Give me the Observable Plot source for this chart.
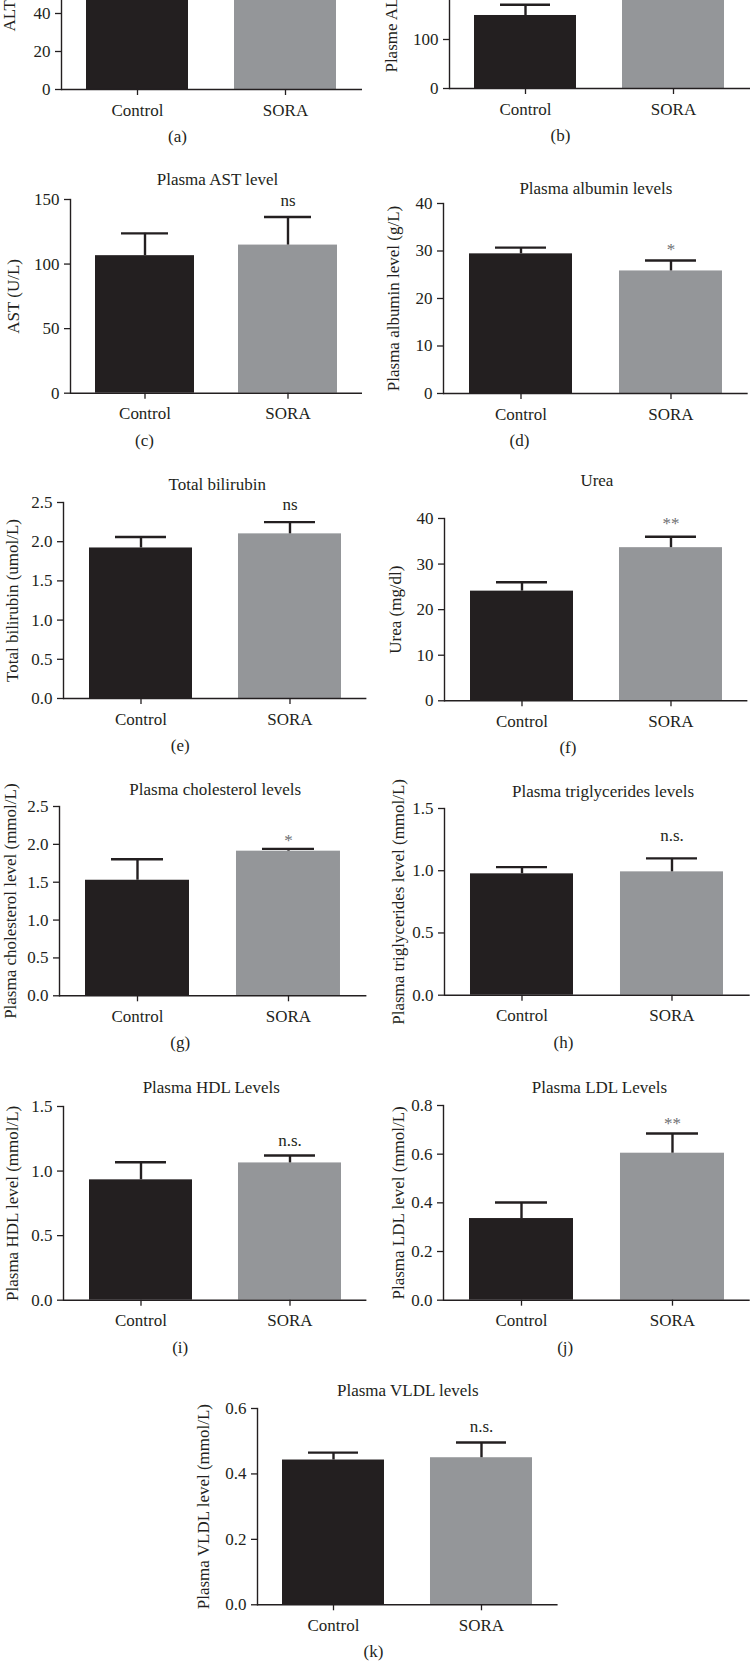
<!DOCTYPE html>
<html>
<head>
<meta charset="utf-8">
<script src="https://cdn.jsdelivr.net/npm/d3@7"></script>
<script src="https://cdn.jsdelivr.net/npm/@observablehq/plot@0.6"></script>
<style>
  html, body { margin: 0; padding: 0; background: #fff; }
  #page { position: relative; width: 751px; height: 1664px; overflow: hidden; background: #fff; }
  #page svg { position: absolute; }
</style>
</head>
<body>
<div id="page"></div>
<script>
// ---------- data ----------
const groups = ["Control", "SORA"];
const letters = ["a", "b", "c", "d", "e", "f", "g", "h", "i", "j", "k"];
// titles of (a) and (b) lie above the cropped top edge of the figure
const titles = [
  "", "", "Plasma AST level", "Plasma albumin levels",
  "Total bilirubin", "Urea", "Plasma cholesterol levels", "Plasma triglycerides levels",
  "Plasma HDL Levels", "Plasma LDL Levels", "Plasma VLDL levels"
];
const yLabels = [
  "ALT (U/L)", "Plasme ALP level (U/L)", "AST (U/L)", "Plasma albumin level (g/L)",
  "Total bilirubin (umol/L)", "Urea (mg/dl)", "Plasma cholesterol level (mmol/L)",
  "Plasma triglycerides level (mmol/L)", "Plasma HDL level (mmol/L)",
  "Plasma LDL level (mmol/L)", "Plasma VLDL level (mmol/L)"
];
const controlMean = [58, 149, 106.5, 29.4, 1.92, 24.06, 1.526, 0.975, 0.932, 0.3355, 0.4425];
const controlErr  = [6, 22, 17.3, 1.3, 0.14, 1.94, 0.277, 0.054, 0.136, 0.066, 0.0225];
const soraMean    = [72, 240, 114.7, 25.8, 2.10, 33.6, 1.91, 0.991, 1.063, 0.604, 0.4495];
const soraErr     = [8, 30, 21.7, 2.2, 0.15, 2.4, 0.03, 0.108, 0.057, 0.081, 0.0465];
const markers     = ["", "", "ns", "*", "ns", "**", "*", "n.s.", "n.s.", "**", "n.s."];
const yMax        = [100, 400, 150, 40, 2.5, 40, 2.5, 1.5, 1.5, 0.8, 0.6];
const yStep       = [20, 100, 50, 10, 0.5, 10, 0.5, 0.5, 0.5, 0.2, 0.2];

// ---------- layout (page pixels) ----------
const layout = [
  {axisX: 61,    right: 362,   top: -101,   base: 89,     titleDy: -25,   titleDx: 0,    yLabDx: -52,   markDy: -12,   letterX: 177},
  {axisX: 449,   right: 750,   top: -108,   base: 88,     titleDy: -25,   titleDx: 0,    yLabDx: -58,   markDy: -12,   letterX: 560},
  {axisX: 70,    right: 362,   top: 199,    base: 392.7,  titleDy: -27,   titleDx: 1,    yLabDx: -56.7, markDy: -16.5, letterX: 144},
  {axisX: 443,   right: 747.7, top: 203.3,  base: 393.3,  titleDy: -21.3, titleDx: 0,    yLabDx: -49.7, markDy: -11,   letterX: 519},
  {axisX: 63.3,  right: 366.7, top: 502.3,  base: 698.3,  titleDy: -24.3, titleDx: 2,    yLabDx: -51,   markDy: -18,   letterX: 180},
  {axisX: 444.3, right: 747.7, top: 517.7,  base: 700,    titleDy: -44.4, titleDx: 0.7,  yLabDx: -48.6, markDy: -13,   letterX: 567.7},
  {axisX: 59.3,  right: 366.7, top: 805.7,  base: 995,    titleDy: -24,   titleDx: 2,    yLabDx: -48.6, markDy: -8.4,  letterX: 180},
  {axisX: 444.3, right: 750,   top: 808.3,  base: 995,    titleDy: -23.3, titleDx: 5.7,  yLabDx: -46,   markDy: -23,   letterX: 563.3},
  {axisX: 63.3,  right: 366.7, top: 1106,   base: 1299.7, titleDy: -26,   titleDx: -4,   yLabDx: -51,   markDy: -15,   letterX: 180},
  {axisX: 443.3, right: 750,   top: 1105,   base: 1299.7, titleDy: -25,   titleDx: 2.6,  yLabDx: -45,   markDy: -10.4, letterX: 565},
  {axisX: 256.7, right: 557.3, top: 1407.7, base: 1604,   titleDy: -24.4, titleDx: 0,    yLabDx: -54.4, markDy: -15.5, letterX: 372.7}
];

const ink = "#231f20";
const barColors = ["#231f20", "#949699"];
const font = "'Liberation Serif', 'DejaVu Serif', serif";
const page = document.getElementById("page");
const ML = 75, MR = 4, MT = 60, MB = 72;

letters.forEach((letter, i) => {
  const L = layout[i];
  const data = groups.map((g, j) => ({
    group: g,
    mean: j ? soraMean[i] : controlMean[i],
    upper: j ? soraMean[i] + soraErr[i] : controlMean[i] + controlErr[i]
  }));
  const markData = markers[i] ? [{group: "SORA", upper: data[1].upper, text: markers[i]}] : [];
  const titleData = titles[i] ? [titles[i]] : [];
  const ticks = d3.range(0, yMax[i] + yStep[i] / 2, yStep[i]);
  const fmt = yStep[i] < 1 ? d3.format(".1f") : d3.format("d");
  const fw = L.right - L.axisX, fh = L.base - L.top;

  const chart = Plot.plot({
    width: fw + ML + MR,
    height: fh + MT + MB,
    marginLeft: ML, marginRight: MR, marginTop: MT, marginBottom: MB,
    style: {fontFamily: font, fontSize: "17px", color: ink, background: "transparent", overflow: "visible"},
    x: {domain: groups, paddingInner: 0.31, paddingOuter: 0.17, label: null},
    y: {domain: [0, yMax[i]], label: null},
    color: {domain: groups, range: barColors},
    marks: [
      Plot.barY(data, {x: "group", y: "mean", fill: "group"}),
      Plot.ruleX(data, {x: "group", y1: "mean", y2: "upper", stroke: ink, strokeWidth: 2.4}),
      Plot.tickY(data, {x: "group", y: "upper", stroke: ink, strokeWidth: 2.4, insetLeft: 26, insetRight: 26}),
      Plot.frame({anchor: "left", stroke: ink, strokeWidth: 1.4}),
      Plot.ruleY([0], {stroke: ink, strokeWidth: 1.4}),
      Plot.axisY({ticks, tickFormat: fmt, tickSize: 6, tickPadding: 5, label: null, stroke: ink, strokeWidth: 1.3}),
      Plot.axisX({tickSize: 6, tickPadding: 8, label: null, stroke: ink, strokeWidth: 1.3}),
      Plot.text(titleData, {frameAnchor: "top", dy: L.titleDy, dx: L.titleDx, fill: ink}),
      Plot.text([yLabels[i]], {frameAnchor: "left", textAnchor: "middle", lineAnchor: "middle", rotate: -90, dx: L.yLabDx, fill: ink}),
      Plot.text(markData, {x: "group", y: "upper", text: "text", dy: L.markDy,
        fill: markers[i].includes("*") ? "#6d6e71" : ink}),
      Plot.text([`(${letter})`], {frameAnchor: "bottom-left", textAnchor: "middle", dx: L.letterX - L.axisX, dy: 52.5, fill: ink})
    ]
  });
  chart.style.left = (L.axisX - ML) + "px";
  chart.style.top = (L.top - MT) + "px";
  page.appendChild(chart);
});
</script>
</body>
</html>
